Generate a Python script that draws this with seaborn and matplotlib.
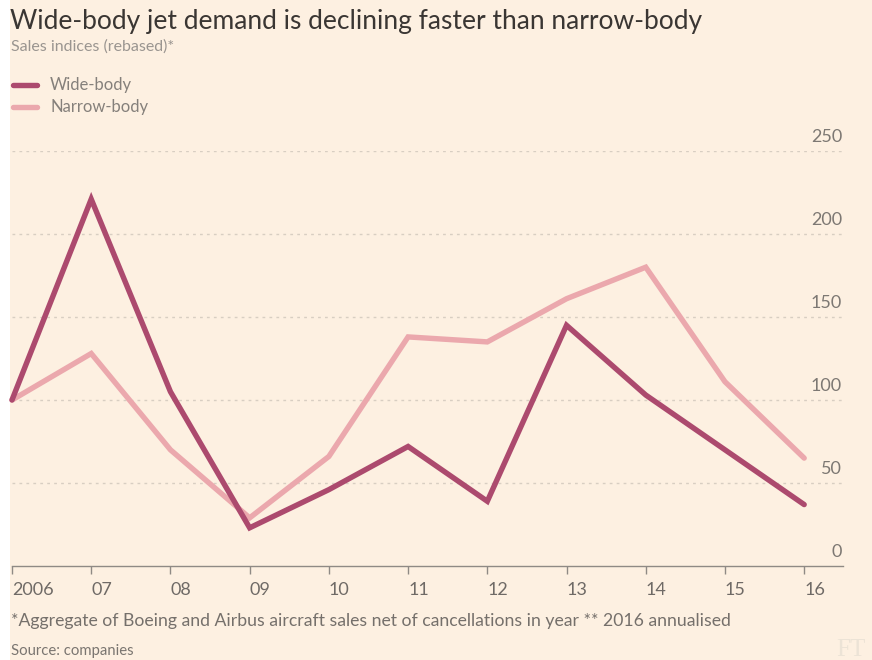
import matplotlib
matplotlib.use("Agg")
import matplotlib.pyplot as plt
from matplotlib.lines import Line2D
from matplotlib.patches import Rectangle
import pandas as pd
import seaborn as sns

# Sales indices (rebased), 2006 = 100
years = [2006, 2007, 2008, 2009, 2010, 2011, 2012, 2013, 2014, 2015, 2016]
year_labels = ["2006", "07", "08", "09", "10", "11", "12", "13", "14", "15", "16"]
wide_body = [100, 221, 105, 23, 46, 72, 39, 145, 103, 70, 37]
narrow_body = [100, 128, 70, 29, 66, 138, 135, 161, 180, 111, 65]
series_names = ["Wide-body", "Narrow-body"]
y_ticks = [0, 50, 100, 150, 200, 250]

BG = "#fdf0e1"
WIDE = "#ac4a6e"
NARROW = "#eba8ad"
W, H = 872, 660

df = pd.DataFrame({
    "year": years * 2,
    "value": wide_body + narrow_body,
    "series": [series_names[0]] * len(years) + [series_names[1]] * len(years),
})

sns.set_theme(style="white")
plt.rcParams["font.family"] = ["Lato", "DejaVu Sans"]

fig = plt.figure(figsize=(W / 100, H / 100), dpi=100, facecolor=BG)


def fx(x):
    return x / W


def fy(y):
    return 1 - y / H


# white strip on the left edge
fig.add_artist(Rectangle((0, 0), fx(10), 1, transform=fig.transFigure,
                         facecolor="white", edgecolor="none", zorder=0))

ax_left, ax_right, ax_top, ax_bottom = 12, 843, 151, 566
ax = fig.add_axes([fx(ax_left), fy(ax_bottom), fx(ax_right - ax_left),
                   (ax_bottom - ax_top) / H])
ax.set_facecolor(BG)

sns.lineplot(data=df, x="year", y="value", hue="series",
             palette={series_names[0]: WIDE, series_names[1]: NARROW},
             hue_order=[series_names[1], series_names[0]],
             linewidth=3.9, legend=False, ax=ax)
for ln in ax.lines:
    ln.set_solid_capstyle("round")
    ln.set_solid_joinstyle("miter")
    ln.set_clip_on(False)

ax.set_xlim(2006, 2016.49)
ax.set_ylim(0, 250)
ax.set_xlabel("")
ax.set_ylabel("")

for s in ["top", "right", "left"]:
    ax.spines[s].set_visible(False)
ax.spines["bottom"].set_color("#8f8a85")
ax.spines["bottom"].set_linewidth(1.0)

# dotted horizontal gridlines
for v in y_ticks[1:]:
    ax.axhline(v, color="#d8cec2", linewidth=1.0, linestyle=(0, (2, 3)), zorder=0)

# y labels sit above gridlines at the right
ax.set_yticks([])
for v in y_ticks:
    ax.annotate(str(v), xy=(1.0, v), xycoords=("axes fraction", "data"),
                xytext=(-1, 6), textcoords="offset pixels",
                ha="right", va="bottom", fontsize=13, color="#7d7873")

# x ticks point down; labels left-aligned on the tick
ax.set_xticks(years)
ax.set_xticklabels([])
ax.tick_params(axis="x", direction="out", length=6, width=1, color="#8f8a85",
               bottom=True)
for yr, lab in zip(years, year_labels):
    ax.annotate(lab, xy=(yr, 0), xycoords="data", xytext=(0, -16),
                textcoords="offset pixels", ha="left", va="top",
                fontsize=13, color="#6f6a66", annotation_clip=False)

# title, subtitle
fig.text(fx(10), fy(29), "Wide-body jet demand is declining faster than narrow-body",
         fontsize=19, color="#3a3633", va="baseline", ha="left")
fig.text(fx(11), fy(51), "Sales indices (rebased)*", fontsize=11.5,
         color="#9a9590", va="baseline", ha="left")

# legend
for y, name, col in [(85, series_names[0], WIDE), (107, series_names[1], NARROW)]:
    fig.add_artist(Line2D([fx(13), fx(37)], [fy(y), fy(y)], transform=fig.transFigure,
                          color=col, linewidth=3.9, solid_capstyle="round"))
    fig.text(fx(50), fy(y), name, fontsize=12, color="#85807b",
             va="center", ha="left")

# footnotes
fig.text(fx(11), fy(626), "*Aggregate of Boeing and Airbus aircraft sales net of "
         "cancellations in year ** 2016 annualised",
         fontsize=12.7, color="#75706b", va="baseline", ha="left")
fig.text(fx(11), fy(655), "Source: companies", fontsize=10.7, color="#7a7570",
         va="baseline", ha="left")
fig.text(fx(866), fy(656), "FT", fontsize=18, color="#ece3d6",
         family=["Liberation Serif", "DejaVu Serif"], va="baseline", ha="right")

fig.savefig("out.png", dpi=100, facecolor=BG)
